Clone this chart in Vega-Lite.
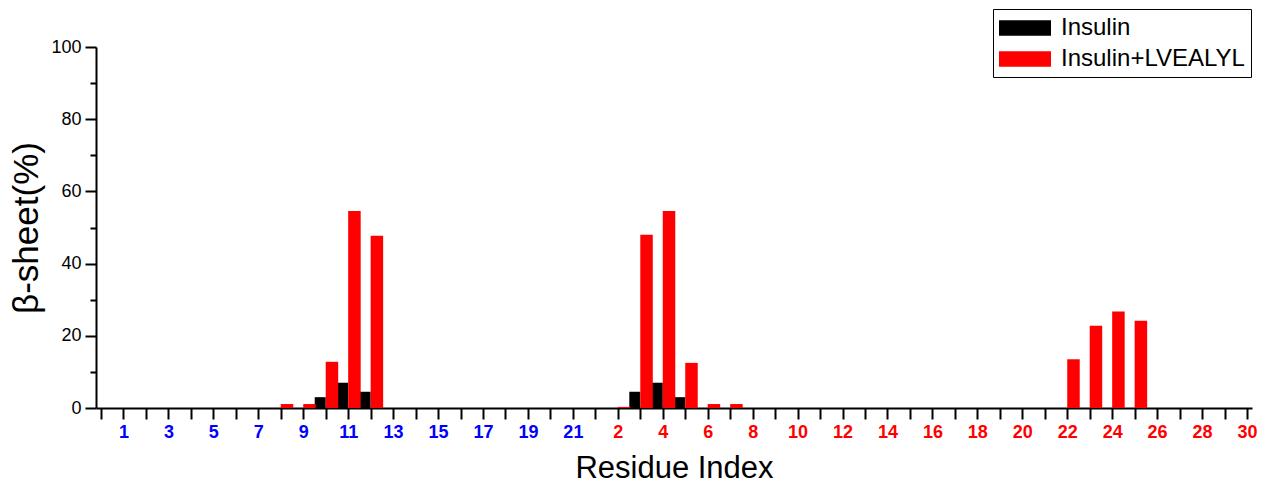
{
  "$schema": "https://vega.github.io/schema/vega-lite/v6.json",
  "autosize": "none",
  "width": 1156,
  "height": 361,
  "padding": {"left": 96, "top": 47, "right": 16, "bottom": 80},
  "background": "white",
  "config": {
    "view": {"stroke": null},
    "font": "Liberation Sans"
  },
  "data": {
    "values": [
      {"i": 10, "chain": "A", "res": 10, "series": "Insulin", "beta": 3.0},
      {"i": 11, "chain": "A", "res": 11, "series": "Insulin", "beta": 7.0},
      {"i": 12, "chain": "A", "res": 12, "series": "Insulin", "beta": 4.5},
      {"i": 24, "chain": "B", "res": 3, "series": "Insulin", "beta": 4.5},
      {"i": 25, "chain": "B", "res": 4, "series": "Insulin", "beta": 7.0},
      {"i": 26, "chain": "B", "res": 5, "series": "Insulin", "beta": 3.0},
      {"i": 8, "chain": "A", "res": 8, "series": "Insulin+LVEALYL", "beta": 1.1},
      {"i": 9, "chain": "A", "res": 9, "series": "Insulin+LVEALYL", "beta": 1.1},
      {"i": 10, "chain": "A", "res": 10, "series": "Insulin+LVEALYL", "beta": 12.8},
      {"i": 11, "chain": "A", "res": 11, "series": "Insulin+LVEALYL", "beta": 54.6},
      {"i": 12, "chain": "A", "res": 12, "series": "Insulin+LVEALYL", "beta": 47.7},
      {"i": 23, "chain": "B", "res": 2, "series": "Insulin+LVEALYL", "beta": 0.3},
      {"i": 24, "chain": "B", "res": 3, "series": "Insulin+LVEALYL", "beta": 48.0},
      {"i": 25, "chain": "B", "res": 4, "series": "Insulin+LVEALYL", "beta": 54.6},
      {"i": 26, "chain": "B", "res": 5, "series": "Insulin+LVEALYL", "beta": 12.5},
      {"i": 27, "chain": "B", "res": 6, "series": "Insulin+LVEALYL", "beta": 1.1},
      {"i": 28, "chain": "B", "res": 7, "series": "Insulin+LVEALYL", "beta": 1.1},
      {"i": 43, "chain": "B", "res": 22, "series": "Insulin+LVEALYL", "beta": 13.5},
      {"i": 44, "chain": "B", "res": 23, "series": "Insulin+LVEALYL", "beta": 22.8},
      {"i": 45, "chain": "B", "res": 24, "series": "Insulin+LVEALYL", "beta": 26.7},
      {"i": 46, "chain": "B", "res": 25, "series": "Insulin+LVEALYL", "beta": 24.2}
    ]
  },
  "encoding": {
    "x": {
      "field": "i",
      "type": "quantitative",
      "scale": {"domain": [0, 51], "nice": false, "zero": false},
      "axis": {
        "title": "Residue Index",
        "titleFontSize": 31,
        "titleFontWeight": "normal",
        "titleColor": "#000000",
        "titlePadding": 12,
        "values": [0,1,2,3,4,5,6,7,8,9,10,11,12,13,14,15,16,17,18,19,20,21,22,23,24,25,26,27,28,29,30,31,32,33,34,35,36,37,38,39,40,41,42,43,44,45,46,47,48,49,50,51],
        "labelExpr": "datum.value >= 1 && datum.value <= 21 ? (datum.value % 2 == 1 ? '' + datum.value : '') : (datum.value >= 22 && (datum.value - 21) % 2 == 0 ? '' + (datum.value - 21) : '')",
        "labelColor": {"condition": {"test": "datum.value <= 21", "value": "#0000ff"}, "value": "#ff0000"},
        "labelFontSize": 18,
        "labelFontWeight": "bold",
        "labelOverlap": false,
        "labelFlush": false,
        "labelPadding": 4,
        "grid": false,
        "domainColor": "#000000",
        "domainWidth": 2,
        "tickColor": "#000000",
        "tickWidth": 2,
        "tickSize": 11
      }
    },
    "y": {
      "field": "beta",
      "type": "quantitative",
      "scale": {"domain": [0, 100], "nice": false},
      "axis": {
        "title": "β-sheet(%)",
        "titleFontSize": 35,
        "titleFontWeight": "normal",
        "titleColor": "#000000",
        "titlePadding": 6,
        "values": [0,10,20,30,40,50,60,70,80,90,100],
        "labelExpr": "datum.value % 20 == 0 ? '' + datum.value : ''",
        "labelFontSize": 18,
        "labelColor": "#000000",
        "labelPadding": 4,
        "grid": false,
        "domainColor": "#000000",
        "domainWidth": 2,
        "tickColor": "#000000",
        "tickWidth": 2,
        "tickSize": {"condition": {"test": "datum.value % 20 == 0", "value": 11}, "value": 6}
      }
    },
    "color": {
      "field": "series",
      "type": "nominal",
      "scale": {"domain": ["Insulin", "Insulin+LVEALYL"], "range": ["#000000", "#ff0000"]},
      "legend": {
        "title": null,
        "orient": "none",
        "legendX": 897,
        "legendY": -38,
        "symbolType": "M-1,-0.6L3,-0.6L3,0.6L-1,0.6Z",
        "symbolSize": 676,
        "symbolStrokeWidth": 0,
        "labelFontSize": 24,
        "labelLimit": 400,
        "labelColor": "#000000",
        "labelOffset": 36,
        "padding": 6,
        "rowPadding": 6,
        "strokeColor": "#000000",
        "fillColor": "#ffffff"
      }
    }
  },
  "layer": [
    {
      "transform": [{"filter": "datum.series === 'Insulin'"}],
      "mark": {"type": "bar", "width": 11, "xOffset": -5.5}
    },
    {
      "transform": [{"filter": "datum.series === 'Insulin+LVEALYL'"}],
      "mark": {"type": "bar", "width": 12.5, "xOffset": 6.25}
    }
  ]
}
